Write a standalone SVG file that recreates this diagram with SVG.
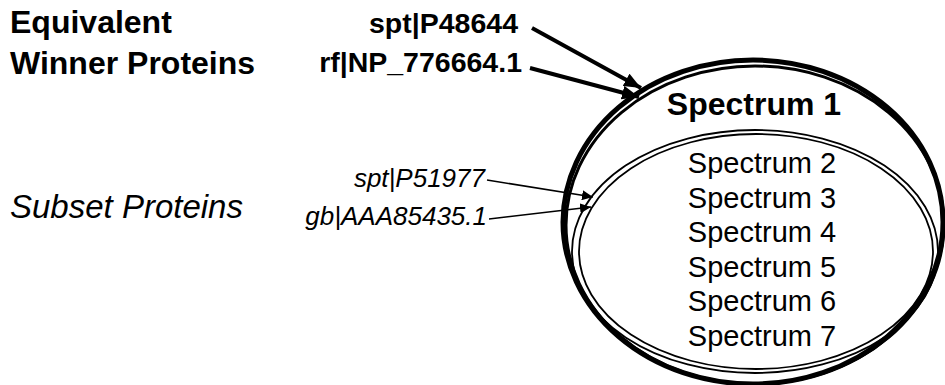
<svg xmlns="http://www.w3.org/2000/svg" width="945" height="385" viewBox="0 0 945 385">
<style>
text{font-family:"Liberation Sans",Arial,sans-serif;fill:#000}
.b{font-weight:bold}
.i{font-style:italic}
.e{fill:none;stroke:#000}
.thick{stroke:#000;stroke-width:4;fill:none}
.thin{stroke:#000;stroke-width:1.5;fill:none}
</style>
<defs>
<marker id="ah" markerUnits="userSpaceOnUse" markerWidth="18" markerHeight="14" refX="17" refY="7" orient="auto">
<path d="M0,0 L17,7 L0,14 z" fill="#000"/>
</marker>
<marker id="as" markerUnits="userSpaceOnUse" markerWidth="12" markerHeight="10" refX="11" refY="5" orient="auto">
<path d="M0,0 L11,5 L0,10 z" fill="#000"/>
</marker>
</defs>
<rect width="945" height="385" fill="#fff"/>
<g id="heading-equivalent">
<text class="b" x="10" y="33" font-size="32">Equivalent</text>
<text class="b" x="10" y="74" font-size="32">Winner Proteins</text>
</g>
<g id="heading-subset">
<text class="i" x="10" y="218" font-size="33">Subset Proteins</text>
</g>
<g id="protein-spt-P48644">
<text class="b" x="518" y="33" font-size="28.5" text-anchor="end">spt|P48644</text>
</g>
<g id="protein-rf-NP_776664">
<text class="b" x="522" y="72" font-size="28.5" text-anchor="end">rf|NP_776664.1</text>
</g>
<g id="protein-spt-P51977">
<text class="i" x="485" y="187" font-size="26" text-anchor="end">spt|P51977</text>
</g>
<g id="protein-gb-AAA85435">
<text class="i" x="487" y="225" font-size="26" text-anchor="end">gb|AAA85435.1</text>
</g>
<g id="spectrum-set-outer">
<ellipse class="e" cx="753" cy="222" rx="190" ry="162" stroke-width="5"/>
<ellipse class="e" cx="755" cy="225" rx="189" ry="159" stroke-width="3"/>
<text class="b" x="754" y="115" font-size="32" text-anchor="middle">Spectrum 1</text>
</g>
<g id="spectrum-set-inner">
<ellipse class="e" cx="755" cy="251.5" rx="183" ry="121.5" stroke-width="1.8"/>
<ellipse class="e" cx="756" cy="251.5" rx="177" ry="117.5" stroke-width="1.8"/>
<text x="762" y="173" font-size="29" text-anchor="middle">Spectrum 2</text>
<text x="762" y="207.5" font-size="29" text-anchor="middle">Spectrum 3</text>
<text x="762" y="242" font-size="29" text-anchor="middle">Spectrum 4</text>
<text x="762" y="276.5" font-size="29" text-anchor="middle">Spectrum 5</text>
<text x="762" y="311" font-size="29" text-anchor="middle">Spectrum 6</text>
<text x="762" y="345.5" font-size="29" text-anchor="middle">Spectrum 7</text>
</g>
<g id="connectors">
<line class="thick" x1="532" y1="28" x2="641" y2="88" marker-end="url(#ah)"/>
<line class="thick" x1="530" y1="68" x2="639" y2="97" marker-end="url(#ah)"/>
<line class="thin" x1="487" y1="180" x2="593" y2="197" marker-end="url(#as)"/>
<line class="thin" x1="489" y1="219" x2="591" y2="207" marker-end="url(#as)"/>
</g>
</svg>
